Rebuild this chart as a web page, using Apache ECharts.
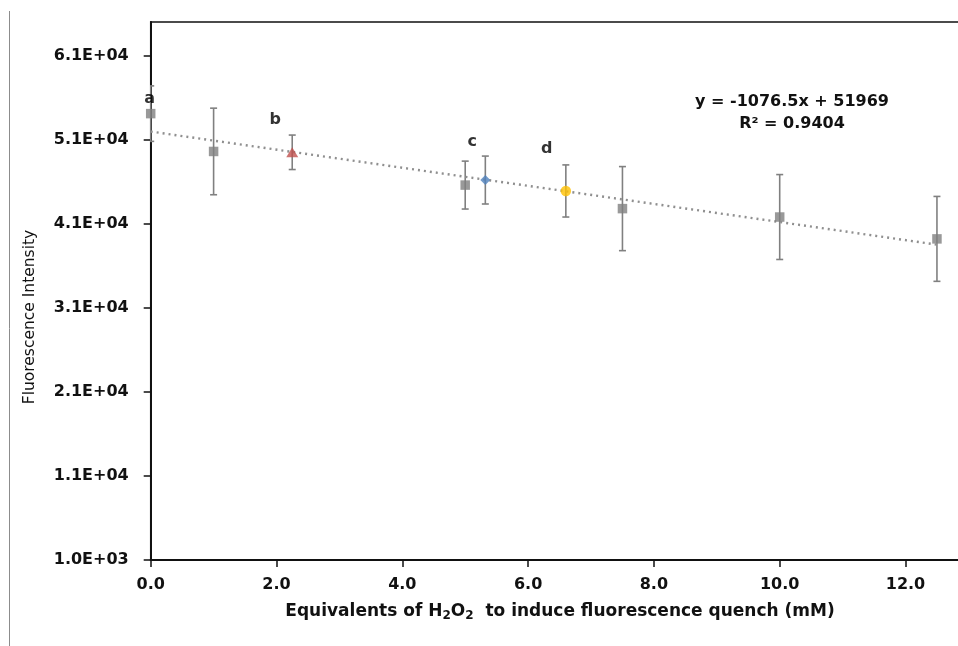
<!DOCTYPE html>
<html>
<head>
<meta charset="utf-8">
<script src="https://cdn.jsdelivr.net/npm/echarts@6/dist/echarts.min.js"></script>
<style>html,body{margin:0;padding:0;background:#fff;}#c{width:958px;height:646px;}</style>
</head>
<body>
<div id="c"></div>
<script>
// ---- data ----
const grayX = [0, 1, 5, 7.5, 10, 12.5];
const grayY = [54100, 49600, 45600, 42800, 41800, 39200];
const grayErr = [3300, 5150, 2850, 5000, 5050, 5050];
const bX = [2.25], bY = [49500], bErr = [2050];
const cX = [5.32], cY = [46200], cErr = [2850];
const dX = [6.6], dY = [44900], dErr = [3100];
const trendX = [0, 12.5];
const trendY = [51969, 38513];
const yTicks = [1000, 11000, 21000, 31000, 41000, 51000, 61000];
const equationText = 'y = -1076.5x + 51969';
const r2Text = 'R² = 0.9404';

const FONT = 'DejaVu Sans';
function expFmt(v) {
  const e = Math.floor(Math.log10(v));
  const m = v / Math.pow(10, e);
  return m.toFixed(1) + 'E+' + String(e).padStart(2, '0');
}
function pts(xs, ys) { return xs.map((x, i) => [x, ys[i]]); }
function errData(xs, ys, es) { return xs.map((x, i) => [x, ys[i] - es[i], ys[i] + es[i]]); }

const allErr = [].concat(errData(grayX, grayY, grayErr), errData(bX, bY, bErr), errData(cX, cY, cErr), errData(dX, dY, dErr));

function letterLabel(text, off) {
  return { show: true, position: 'inside', offset: off, formatter: text,
    fontFamily: FONT, fontWeight: 'bold', fontSize: 16, color: '#000', textBorderWidth: 0 };
}

const chart = echarts.init(document.getElementById('c'), null, { renderer: 'canvas' });
const grayData = pts(grayX, grayY).map((p, i) => i === 0 ? { value: p, label: letterLabel('a', [-1, -15]) } : { value: p });

chart.setOption({
  animation: false,
  backgroundColor: '#fff',
  grid: { left: 150.7, top: 22, width: 880.6, height: 538, show: true, borderColor: '#111', borderWidth: 1.5, backgroundColor: 'transparent', outerBoundsMode: 'none', containLabel: false },
  xAxis: {
    type: 'value', min: 0, max: 14, interval: 2,
    axisLine: { show: true, onZero: false, lineStyle: { color: '#111', width: 2 } },
    axisTick: { show: true, length: 7, lineStyle: { color: '#111', width: 1.5 } },
    axisLabel: { margin: 17, fontFamily: FONT, fontWeight: 'bold', fontSize: 16, color: '#111', formatter: v => v.toFixed(1) },
    splitLine: { show: false }
  },
  yAxis: {
    type: 'value', min: 1000, max: 65000,
    axisLine: { show: true, onZero: false, lineStyle: { color: '#111', width: 2 } },
    axisTick: { show: true, length: 7, customValues: yTicks, lineStyle: { color: '#111', width: 1.5 } },
    axisLabel: { margin: 22, fontFamily: FONT, fontWeight: 'bold', fontSize: 16, color: '#111', customValues: yTicks, formatter: v => expFmt(v) },
    splitLine: { show: false }
  },
  graphic: [
    { type: 'line', shape: { x1: 9.5, y1: 11, x2: 9.5, y2: 646 }, style: { stroke: '#8c8c8c', lineWidth: 1 } },
    { type: 'text', x: 30, y: 317, rotation: Math.PI / 2,
      style: { text: 'Fluorescence Intensity', fontFamily: FONT, fontSize: 15.5, fill: '#111', align: 'center', verticalAlign: 'middle' } },
    { type: 'text', x: 560, y: 612,
      style: { text: '{m|Equivalents of H}{s|2}{m|O}{s|2}{m|  to induce fluorescence quench (mM)}',
        align: 'center', verticalAlign: 'middle',
        rich: {
          m: { fontFamily: FONT, fontWeight: 'bold', fontSize: 17, fill: '#111', lineHeight: 20, verticalAlign: 'middle' },
          s: { fontFamily: FONT, fontWeight: 'bold', fontSize: 12, fill: '#111', lineHeight: 20, verticalAlign: 'bottom', padding: [11, 0, 0, 0] }
        } } },
    { type: 'text', x: 792, y: 102,
      style: { text: equationText, fontFamily: FONT, fontWeight: 'bold', fontSize: 16, fill: '#111', align: 'center', verticalAlign: 'middle' } },
    { type: 'text', x: 792, y: 124,
      style: { text: r2Text, fontFamily: FONT, fontWeight: 'bold', fontSize: 16, fill: '#111', align: 'center', verticalAlign: 'middle' } }
  ],
  series: [
    {
      type: 'custom', name: 'err', clip: true, z: 3,
      data: allErr,
      renderItem: function (params, api) {
        const x = api.value(0);
        const lo = api.coord([x, api.value(1)]);
        const hi = api.coord([x, api.value(2)]);
        const cw = 3.5;
        const st = { stroke: '#808080', lineWidth: 1.6 };
        return { type: 'group', children: [
          { type: 'line', shape: { x1: lo[0], y1: lo[1], x2: hi[0], y2: hi[1] }, style: st },
          { type: 'line', shape: { x1: lo[0] - cw, y1: lo[1], x2: lo[0] + cw, y2: lo[1] }, style: st },
          { type: 'line', shape: { x1: hi[0] - cw, y1: hi[1], x2: hi[0] + cw, y2: hi[1] }, style: st }
        ] };
      }
    },
    {
      type: 'line', name: 'trend', z: 4, symbol: 'none', data: pts(trendX, trendY),
      lineStyle: { color: '#8f8f8f', width: 2.4, type: [2, 4] }
    },
    {
      type: 'scatter', name: 'gray', z: 5, clip: false, symbol: 'rect', symbolSize: 9.5,
      itemStyle: { color: '#7f7f7f' }, data: grayData
    },
    {
      type: 'scatter', name: 'b', z: 5, symbol: 'triangle', symbolSize: [12, 10],
      itemStyle: { color: '#c0504d' },
      data: pts(bX, bY).map(p => ({ value: p, label: letterLabel('b', [-17, -32]) }))
    },
    {
      type: 'scatter', name: 'c', z: 5, symbol: 'diamond', symbolSize: [10, 10],
      itemStyle: { color: '#4f81bd' },
      data: pts(cX, cY).map(p => ({ value: p, label: letterLabel('c', [-13, -38]) }))
    },
    {
      type: 'scatter', name: 'd', z: 5, symbol: 'circle', symbolSize: 10.5,
      itemStyle: { color: '#ffc000' },
      data: pts(dX, dY).map(p => ({ value: p, label: letterLabel('d', [-19, -42]) }))
    }
  ]
});
</script>
</body>
</html>
